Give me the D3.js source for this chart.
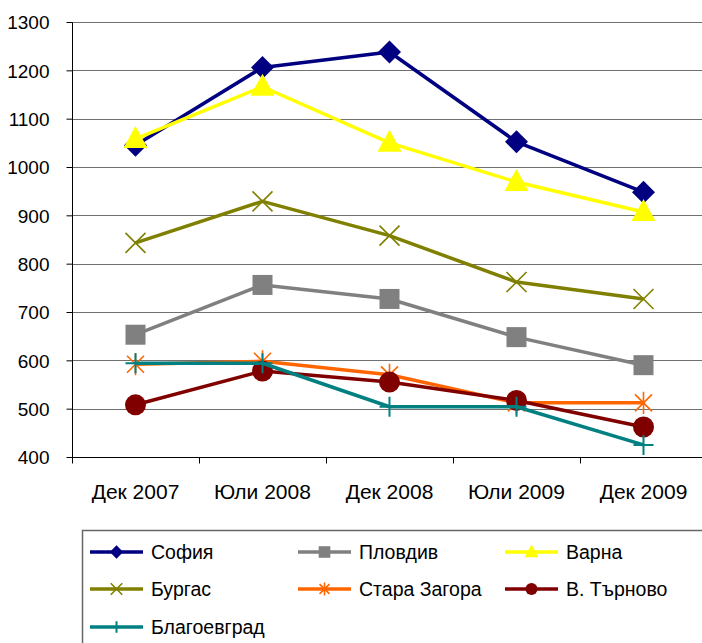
<!DOCTYPE html>
<html>
<head>
<meta charset="utf-8">
<script src="https://cdn.jsdelivr.net/npm/d3@7"></script>
<style>
  body { margin: 0; background: #fff; }
  svg text { font-family: "Liberation Sans", Arial, sans-serif; fill: #000; }
</style>
</head>
<body>
<svg id="chart" width="702" height="643"></svg>
<script>
// categories and values
let months = ["Дек 2007", "Юли 2008", "Дек 2008", "Юли 2009", "Дек 2009"];
let yTicks = [400, 500, 600, 700, 800, 900, 1000, 1100, 1200, 1300];

let sofia       = [1045, 1206, 1238, 1052, 948];
let plovdiv     = [653, 756, 727, 648, 590];
let varna       = [1058, 1166, 1050, 969, 907];
let burgas      = [843, 929, 858, 762, 727];
let staraZagora = [592, 598, 570, 512, 512];
let tarnovo     = [508, 578, 555, 517, 462];
let blagoevgrad = [594, 594, 504, 504, 425];

let series = [
  {name: "София",        values: sofia,       color: "#000080", marker: "diamond"},
  {name: "Пловдив",      values: plovdiv,     color: "#808080", marker: "square"},
  {name: "Варна",        values: varna,       color: "#ffff00", marker: "triangle"},
  {name: "Бургас",       values: burgas,      color: "#808000", marker: "x"},
  {name: "Стара Загора", values: staraZagora, color: "#ff6600", marker: "star"},
  {name: "В. Търново",   values: tarnovo,     color: "#800000", marker: "circle"},
  {name: "Благоевград",  values: blagoevgrad, color: "#008080", marker: "plus"}
];

let svg = d3.select("#chart");
let plotLeft = 72, plotRight = 707, plotTop = 22, plotBottom = 457;

let x = d3.scaleBand().domain(months).range([plotLeft, plotRight]);
let y = d3.scaleLinear().domain([400, 1300]).range([plotBottom, plotTop]);

// gridlines
svg.append("g")
  .selectAll("line")
  .data(yTicks.filter(function(d){ return d > 400; }))
  .enter().append("line")
    .attr("x1", plotLeft).attr("x2", plotRight)
    .attr("y1", function(d){ return Math.round(y(d)) + 0.5; })
    .attr("y2", function(d){ return Math.round(y(d)) + 0.5; })
    .style("stroke", "#707070")
    .style("stroke-width", 1.2);

// y axis
let yAxis = svg.append("g")
  .attr("transform", "translate(" + (plotLeft + 0.5) + ",0)")
  .call(d3.axisLeft(y).tickValues(yTicks).tickSize(6).tickPadding(17).tickFormat(d3.format("d")));
yAxis.selectAll("text").style("font-size", "19px").attr("dy", "0.36em");
yAxis.selectAll("line,path").style("stroke", "#000");
yAxis.select("path").attr("d", "M0," + (plotTop + 0.5) + "V" + (plotBottom + 0.5));

// x axis with ticks between categories
let xAxisG = svg.append("g").attr("transform", "translate(0," + (plotBottom + 0.5) + ")");
xAxisG.append("line").attr("x1", plotLeft).attr("x2", plotRight).style("stroke", "#000");
xAxisG.selectAll(".tk")
  .data(months)
  .enter().append("line")
    .attr("x1", function(d){ return Math.round(x(d)) + 0.5; })
    .attr("x2", function(d){ return Math.round(x(d)) + 0.5; })
    .attr("y1", 0).attr("y2", 6)
    .style("stroke", "#000");
xAxisG.selectAll("text")
  .data(months)
  .enter().append("text")
    .attr("x", function(d){ return x(d) + x.bandwidth() / 2; })
    .attr("y", 41)
    .attr("text-anchor", "middle")
    .style("font-size", "21px")
    .text(function(d){ return d; });

function markerPath(type, s) {
  let p = d3.path();
  if (type === "x") {
    p.moveTo(-s, -s); p.lineTo(s, s); p.moveTo(-s, s); p.lineTo(s, -s);
  } else if (type === "star") {
    p.moveTo(-s, -s); p.lineTo(s, s); p.moveTo(-s, s); p.lineTo(s, -s);
    p.moveTo(0, -s * 1.3); p.lineTo(0, s * 1.3);
  } else if (type === "plus") {
    p.moveTo(-s, 0); p.lineTo(s, 0); p.moveTo(0, -s); p.lineTo(0, s);
  }
  return p.toString();
}

function drawMarker(g, type, color, big) {
  let k = big ? 1 : 0.58;
  if (type === "diamond") {
    g.append("path").attr("d", "M0,-" + 11.5*k + "L" + 11.5*k + ",0L0," + 11.5*k + "L-" + 11.5*k + ",0Z").style("fill", color);
  } else if (type === "square") {
    g.append("rect").attr("x", -10*k).attr("y", -10*k).attr("width", 20*k).attr("height", 20*k).style("fill", color);
  } else if (type === "triangle") {
    g.append("path").attr("d", "M0,-" + 13*k + "L" + 12*k + "," + 9*k + "L-" + 12*k + "," + 9*k + "Z").style("fill", color);
  } else if (type === "circle") {
    g.append("circle").attr("r", 10.5*k).style("fill", color);
  } else if (type === "x") {
    g.append("path").attr("d", markerPath("x", 10*k)).style("stroke", color).style("stroke-width", 1.6).style("fill", "none");
  } else if (type === "star") {
    g.append("path").attr("d", markerPath("star", 8.5*k)).style("stroke", color).style("stroke-width", 1.6).style("fill", "none");
  } else if (type === "plus") {
    g.append("path").attr("d", markerPath("plus", 10*k)).style("stroke", color).style("stroke-width", 2).style("fill", "none");
  }
}

let line = d3.line()
  .x(function(d, i){ return x(months[i]) + x.bandwidth() / 2; })
  .y(function(d){ return y(d); });

series.forEach(function(s) {
  let g = svg.append("g");
  g.append("path")
    .datum(s.values)
    .attr("d", line)
    .style("fill", "none")
    .style("stroke", s.color)
    .style("stroke-width", 3.5)
    .style("stroke-linejoin", "round");
  s.values.forEach(function(v, i) {
    let m = g.append("g")
      .attr("transform", "translate(" + (x(months[i]) + x.bandwidth() / 2) + "," + y(v) + ")");
    drawMarker(m, s.marker, s.color, true);
  });
});

// legend
let legend = svg.append("g");
legend.append("rect")
  .attr("x", 82.5).attr("y", 530.5)
  .attr("width", 640).attr("height", 130)
  .style("fill", "#fff").style("stroke", "#666").style("stroke-width", 1.5);

let colX = [90, 298, 505];
let rowY = [552, 589, 627];
series.forEach(function(s, i) {
  let cx = colX[i % 3], cy = rowY[Math.floor(i / 3)];
  let item = legend.append("g").attr("transform", "translate(" + cx + "," + cy + ")");
  item.append("line").attr("x1", 0).attr("x2", 53).attr("y1", 0).attr("y2", 0)
    .style("stroke", s.color).style("stroke-width", 3.5);
  let m = item.append("g").attr("transform", "translate(26.5,0)");
  drawMarker(m, s.marker, s.color, false);
  item.append("text")
    .attr("x", 61).attr("y", 0).attr("dy", "0.36em")
    .style("font-size", "19.5px")
    .text(s.name);
});
</script>
</body>
</html>
